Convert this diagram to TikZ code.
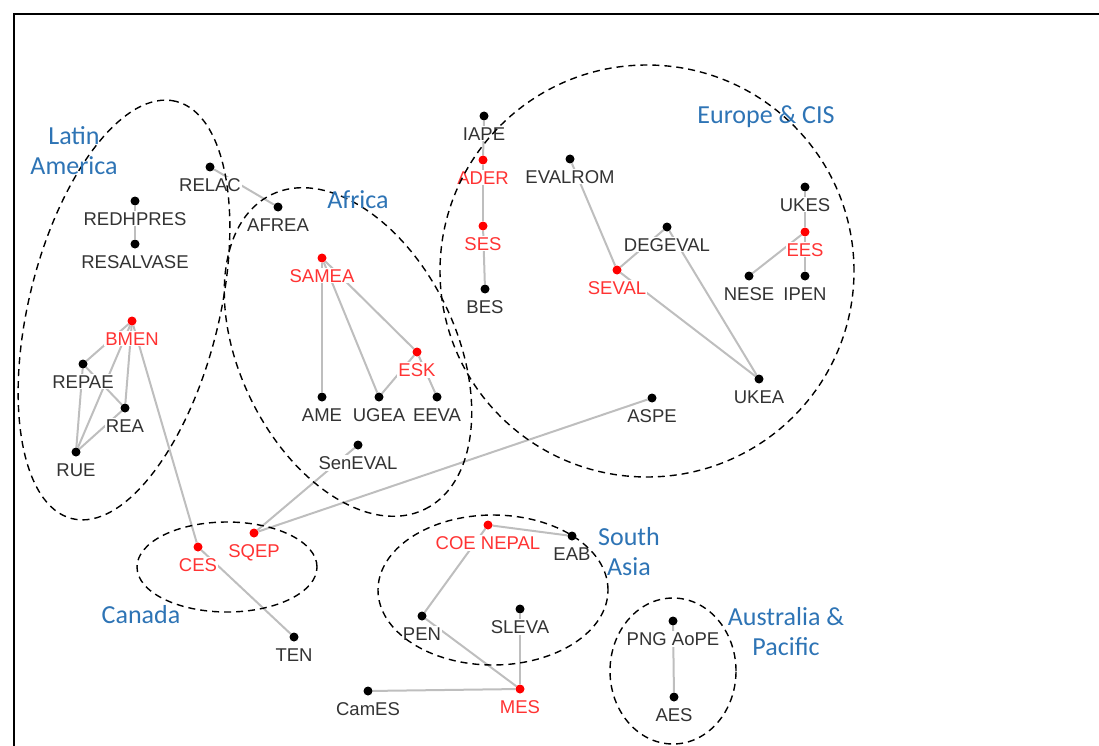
\documentclass[tikz,border=0pt]{standalone}
\usepackage{fontspec}
\setmainfont{Liberation Sans}
\newfontfamily\regionfont{Carlito}
\usepackage{xcolor}
\usepackage{tikz}
\usetikzlibrary{positioning}
\definecolor{edgegray}{RGB}{190,190,190}
\definecolor{regionblue}{RGB}{46,116,181}
\pgfdeclarelayer{back}
\pgfsetlayers{back,main}

\begin{document}
\begin{tikzpicture}[x=1pt, y=-1pt, label distance=5.5pt,
        org/.style={circle, fill=#1, inner sep=0pt, minimum size=9pt},
        lab/.style={fill=white, inner sep=1pt, font=\fontsize{18.5}{18.5}\selectfont},
        link/.style={edgegray, line width=2pt},
        region/.style={black, line width=1.4pt, dash pattern=on 7pt off 5pt},
        regionname/.style={text=regionblue, align=center, font=\regionfont\fontsize{26}{30}\selectfont}]
        \useasboundingbox (0,0) rectangle (1099,746);
        \draw[line width=2pt] (14,746) -- (14,14) -- (1099,14);
        \foreach \n/\t/\x/\y/\c in {relac/RELAC/210/167/black, afrea/AFREA/278/207/black, redhpres/REDHPRES/135/201/black,
            resalvase/RESALVASE/135/244/black, bmen/BMEN/132/321/red, repae/REPAE/83/364/black, rea/REA/125/408/black,
            rue/RUE/76/452/black, samea/SAMEA/322/258/red, esk/ESK/417/352/red, ame/AME/322/397/black,
            ugea/UGEA/379/397/black, eeva/EEVA/437/397/black, seneval/SenEVAL/358/445/black, sqep/SQEP/254/533/red,
            ces/CES/198/547/red, ten/TEN/294/637/black, iape/IAPE/484/116/black, ader/ADER/483/160/red,
            ses/SES/483/226/red, bes/BES/485/289/black, evalrom/EVALROM/570/159/black, degeval/DEGEVAL/667/227/black,
            seval/SEVAL/617/270/red, ukes/UKES/805/187/black, ees/EES/805/232/red, nese/NESE/749/276/black,
            ipen/IPEN/805/276/black, ukea/UKEA/759/379/black, aspe/ASPE/652/398/black, coe/COE NEPAL/488/525/red,
            eab/EAB/572/536/black, pen/PEN/422/616/black, sleva/SLEVA/520/609/black, mes/MES/520/689/red,
            cames/CamES/368/691/black, png/PNG AoPE/673/621/black, aes/AES/674/697/black}
            \node[org=\c, label={[lab, text=\c!80]below:\t}] (\n) at (\x,\y) {};
        \begin{pgfonlayer}{back}
            \foreach \a/\b in {relac/afrea, redhpres/resalvase, bmen/repae, bmen/rue, bmen/rea, bmen/ces, repae/rue,
                repae/rea, rue/rea, samea/ame, samea/ugea, samea/esk, esk/ugea, esk/eeva, seneval/sqep, sqep/aspe,
                ces/ten, iape/ader, ader/ses, ses/bes, evalrom/seval, seval/degeval, seval/ukea, degeval/ukea,
                ukes/ees, ees/nese, ees/ipen, coe/eab, coe/pen, pen/mes, sleva/mes, cames/mes, png/aes}
                \draw[link] (\a) -- (\b);
        \end{pgfonlayer}
        \draw[region, rotate around={76:(124,310)}] (124,310) ellipse [x radius=215pt, y radius=95pt];
        \draw[region, rotate around={-64:(348,352)}] (348,352) ellipse [x radius=175pt, y radius=108pt];
        \draw[region] (647,271) ellipse [x radius=207pt, y radius=206pt];
        \draw[region] (227,567) ellipse [x radius=90pt, y radius=45pt];
        \draw[region] (493,590) ellipse [x radius=115pt, y radius=75pt];
        \draw[region] (673,671) ellipse [x radius=63pt, y radius=73pt];
        \node[regionname] (latam) at (74,151) {Latin\\America};
        \node[regionname] (africa) at (358,200) {Africa};
        \node[regionname] (europe) at (766,117) {Europe \& CIS};
        \node[regionname] (canada) at (141,615) {Canada};
        \node[regionname] (sasia) at (629,552) {South\\Asia};
        \node[regionname] (austpac) at (786,632) {Australia \&\\Pacific};
    \end{tikzpicture}
\end{document}
